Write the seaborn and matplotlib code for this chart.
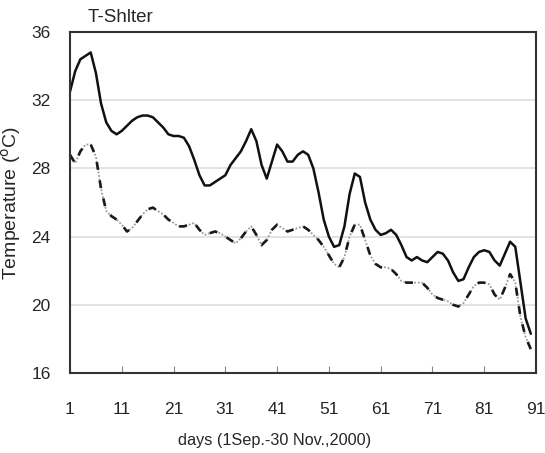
import numpy as np
import pandas as pd
import matplotlib
matplotlib.use("Agg")
import matplotlib.pyplot as plt
import seaborn as sns

days = list(range(1, 91))
t_max = [32.5, 33.7, 34.4, 34.6, 34.8, 33.6, 31.8, 30.7, 30.2, 30.0,
         30.2, 30.5, 30.8, 31.0, 31.1, 31.1, 31.0, 30.7, 30.4, 30.0,
         29.9, 29.9, 29.8, 29.3, 28.5, 27.6, 27.0, 27.0, 27.2, 27.4,
         27.6, 28.2, 28.6, 29.0, 29.6, 30.3, 29.6, 28.2, 27.4, 28.4,
         29.4, 29.0, 28.4, 28.4, 28.8, 29.0, 28.8, 28.0, 26.6, 25.0,
         24.0, 23.4, 23.5, 24.6, 26.5, 27.7, 27.5, 26.0, 25.0, 24.4,
         24.1, 24.2, 24.4, 24.1, 23.5, 22.8, 22.6, 22.8, 22.6, 22.5,
         22.8, 23.1, 23.0, 22.6, 21.9, 21.4, 21.5, 22.2, 22.8, 23.1,
         23.2, 23.1, 22.6, 22.3, 23.0, 23.7, 23.4, 21.3, 19.2, 18.3]
t_mean = [28.8, 28.3, 29.0, 29.4, 29.4, 28.7, 26.8, 25.5, 25.2, 25.0,
          24.7, 24.3, 24.5, 24.9, 25.3, 25.6, 25.7, 25.5, 25.3, 25.0,
          24.8, 24.6, 24.6, 24.7, 24.8, 24.4, 24.1, 24.2, 24.3, 24.2,
          24.0, 23.8, 23.6, 23.9, 24.3, 24.6, 24.1, 23.5, 23.8, 24.4,
          24.7, 24.5, 24.3, 24.4, 24.5, 24.6, 24.4, 24.1, 23.8, 23.4,
          22.9, 22.4, 22.2, 22.8, 24.0, 24.7, 24.7, 23.8, 22.9, 22.4,
          22.2, 22.2, 22.1, 21.8, 21.4, 21.3, 21.3, 21.3, 21.3, 21.0,
          20.6, 20.4, 20.3, 20.2, 20.0, 19.9, 20.1, 20.6, 21.1, 21.3,
          21.3, 21.2, 20.6, 20.3, 21.0, 21.8, 21.3, 19.3, 18.1, 17.4]
x_ticks = [1, 11, 21, 31, 41, 51, 61, 71, 81, 91]
y_ticks = [16, 20, 24, 28, 32, 36]

sns.set_theme(style="white")
plt.rcParams['font.family'] = ['Liberation Sans', 'DejaVu Sans']

df = pd.DataFrame({"day": days, "tmax": t_max, "tmean": t_mean})

fig = plt.figure(figsize=(5.45, 4.53), dpi=100)
ax = fig.add_axes([70/545, 1-373/453, 466/545, 341/453])

for y in [20, 24, 28, 32]:
    ax.axhline(y, color="#dedede", lw=1.2, zorder=0)

sns.lineplot(data=df, x="day", y="tmax", ax=ax, color="#111111", lw=1.8)
sns.lineplot(data=df, x="day", y="tmean", ax=ax, color="#9a9a9a", lw=1.3,
             linestyle=(0, (1, 1)))
sns.lineplot(data=df, x="day", y="tmean", ax=ax, color="#1a1a1a", lw=1.9,
             linestyle=(0, (3, 4)))

ax.set_xlim(1, 91)
ax.set_ylim(16, 36)
ax.set_xticks(x_ticks)
ax.set_xticklabels([str(v) for v in x_ticks])
ax.set_yticks(y_ticks)
ax.set_yticklabels([str(v) for v in y_ticks])
ax.tick_params(axis="x", direction="in", length=5, width=0.8, color="#888888",
               pad=21, labelsize=12.5, bottom=True)
ax.tick_params(axis="y", length=0, pad=14, labelsize=12.5)
for s in ax.spines.values():
    s.set_color("#333333")
    s.set_linewidth(1.5)
ax.set_xlabel("")
ax.set_ylabel("Temperature ($^{\\mathrm{o}}$C)", fontsize=14, labelpad=6)
fig.text(275/545, 1-440/453, "days (1Sep.-30 Nov.,2000)", ha="center",
         va="center", fontsize=11.7)
fig.text(88/545, 1-18/453, "T-Shlter", ha="left", va="center", fontsize=13.5)

fig.savefig("out.png", dpi=100)
